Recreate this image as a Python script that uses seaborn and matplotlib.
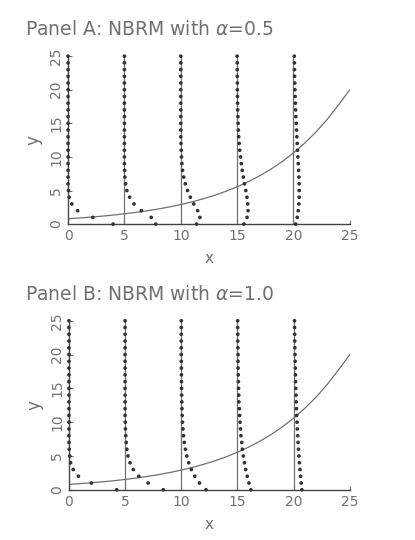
import numpy as np
import pandas as pd
import matplotlib.pyplot as plt
import seaborn as sns

# curve of the expected count, read at x = 0..25
curve_x = list(range(26))
curve_y = [0.80, 0.91, 1.04, 1.18, 1.34, 1.53, 1.74, 1.98, 2.25, 2.56, 2.91,
           3.31, 3.77, 4.29, 4.88, 5.55, 6.32, 7.19, 8.18, 9.31, 10.6,
           12.06, 13.72, 15.6, 17.76, 20.0]

# vertical reference lines where the distributions sit
centers = [0, 5, 10, 15, 20]
counts = list(range(26))

# horizontal offsets of the dots (x units) for y = 0, 1, 2, ... ; rest are 0
offsets_a = {
    0: [4.0, 2.2, 0.85, 0.33, 0.1, 0.03],
    5: [2.78, 2.38, 1.5, 0.85, 0.46, 0.22, 0.1, 0.04, 0.02],
    10: [1.4, 1.7, 1.5, 1.15, 0.85, 0.6, 0.4, 0.26, 0.16, 0.1, 0.06, 0.04, 0.02],
    15: [0.6, 0.88, 0.97, 0.94, 0.87, 0.77, 0.65, 0.55, 0.45, 0.37, 0.3, 0.23,
         0.18, 0.14, 0.11, 0.09, 0.07, 0.05, 0.04, 0.03, 0.02, 0.02, 0.01, 0.01, 0.01],
    20: [0.2, 0.33, 0.42, 0.48, 0.5, 0.5, 0.5, 0.48, 0.45, 0.42, 0.39, 0.36, 0.33,
         0.3, 0.27, 0.24, 0.21, 0.19, 0.17, 0.15, 0.13, 0.12, 0.1, 0.09, 0.08, 0.07],
}
offsets_b = {
    0: [4.25, 2.0, 0.85, 0.38, 0.15, 0.07, 0.03, 0.01],
    5: [3.4, 2.05, 1.22, 0.73, 0.44, 0.26, 0.16, 0.1, 0.06, 0.03, 0.02],
    10: [2.2, 1.62, 1.2, 0.9, 0.66, 0.49, 0.37, 0.27, 0.2, 0.15, 0.11, 0.08, 0.06,
         0.05, 0.035, 0.026, 0.02, 0.015, 0.01],
    15: [1.2, 1.02, 0.87, 0.73, 0.62, 0.52, 0.44, 0.38, 0.31, 0.27, 0.23, 0.19,
         0.17, 0.13, 0.12, 0.1, 0.08, 0.07, 0.06, 0.05, 0.05, 0.04, 0.03, 0.03, 0.02, 0.02],
    20: [0.73, 0.67, 0.61, 0.56, 0.51, 0.47, 0.43, 0.39, 0.36, 0.33, 0.3, 0.27, 0.25,
         0.23, 0.21, 0.19, 0.17, 0.16, 0.15, 0.13, 0.12, 0.11, 0.1, 0.09, 0.085, 0.077],
}

titles = ["Panel A: NBRM with $\\alpha$=0.5", "Panel B: NBRM with $\\alpha$=1.0"]

sns.set_style("ticks")
plt.rcParams['font.family'] = ['DejaVu Sans']
gray = "#707070"
dark = "#333333"

fig = plt.figure(figsize=(4.15, 5.4), dpi=100)
fig.patch.set_facecolor("white")

ax_boxes = [[0.164, 0.585, 0.679, 0.311], [0.166, 0.093, 0.677, 0.313]]
title_y = [0.935, 0.445]

for i, offs in enumerate([offsets_a, offsets_b]):
    ax = fig.add_axes(ax_boxes[i])
    rows = []
    for c in centers:
        o = offs[c]
        for k in counts:
            d = o[k] if k < len(o) else 0.0
            rows.append({"x": c + d, "y": k, "center": c})
    df = pd.DataFrame(rows)

    for c in centers[1:]:
        ax.plot([c, c], [0, 25], color=gray, lw=0.9, zorder=1)

    sns.lineplot(x=curve_x, y=curve_y, ax=ax, color=gray, lw=0.9, zorder=2)
    sns.scatterplot(data=df, x="x", y="y", ax=ax, color=dark, s=7,
                    edgecolor="none", zorder=3, clip_on=False)

    ax.set_xlim(0, 25)
    ax.set_ylim(0, 25)
    ax.set_xticks([0, 5, 10, 15, 20, 25])
    ax.set_yticks([0, 5, 10, 15, 20, 25])
    ax.tick_params(axis="both", colors=gray, labelcolor=gray, labelsize=10,
                   length=3, width=0.8, direction="in")
    ax.tick_params(axis="y", labelrotation=90)
    for lab in ax.get_yticklabels():
        lab.set_va("center")
    for s in ["left", "bottom"]:
        ax.spines[s].set_color("#444444")
        ax.spines[s].set_linewidth(1.0)
    sns.despine(ax=ax)
    ax.set_xlabel("x", color=gray, fontsize=11, labelpad=6)
    ax.set_ylabel("y", color=gray, fontsize=12, labelpad=5)
    fig.text(0.06, title_y[i], titles[i], color=gray, fontsize=13.5, ha="left")

fig.savefig("out.png", dpi=100, facecolor="white")
